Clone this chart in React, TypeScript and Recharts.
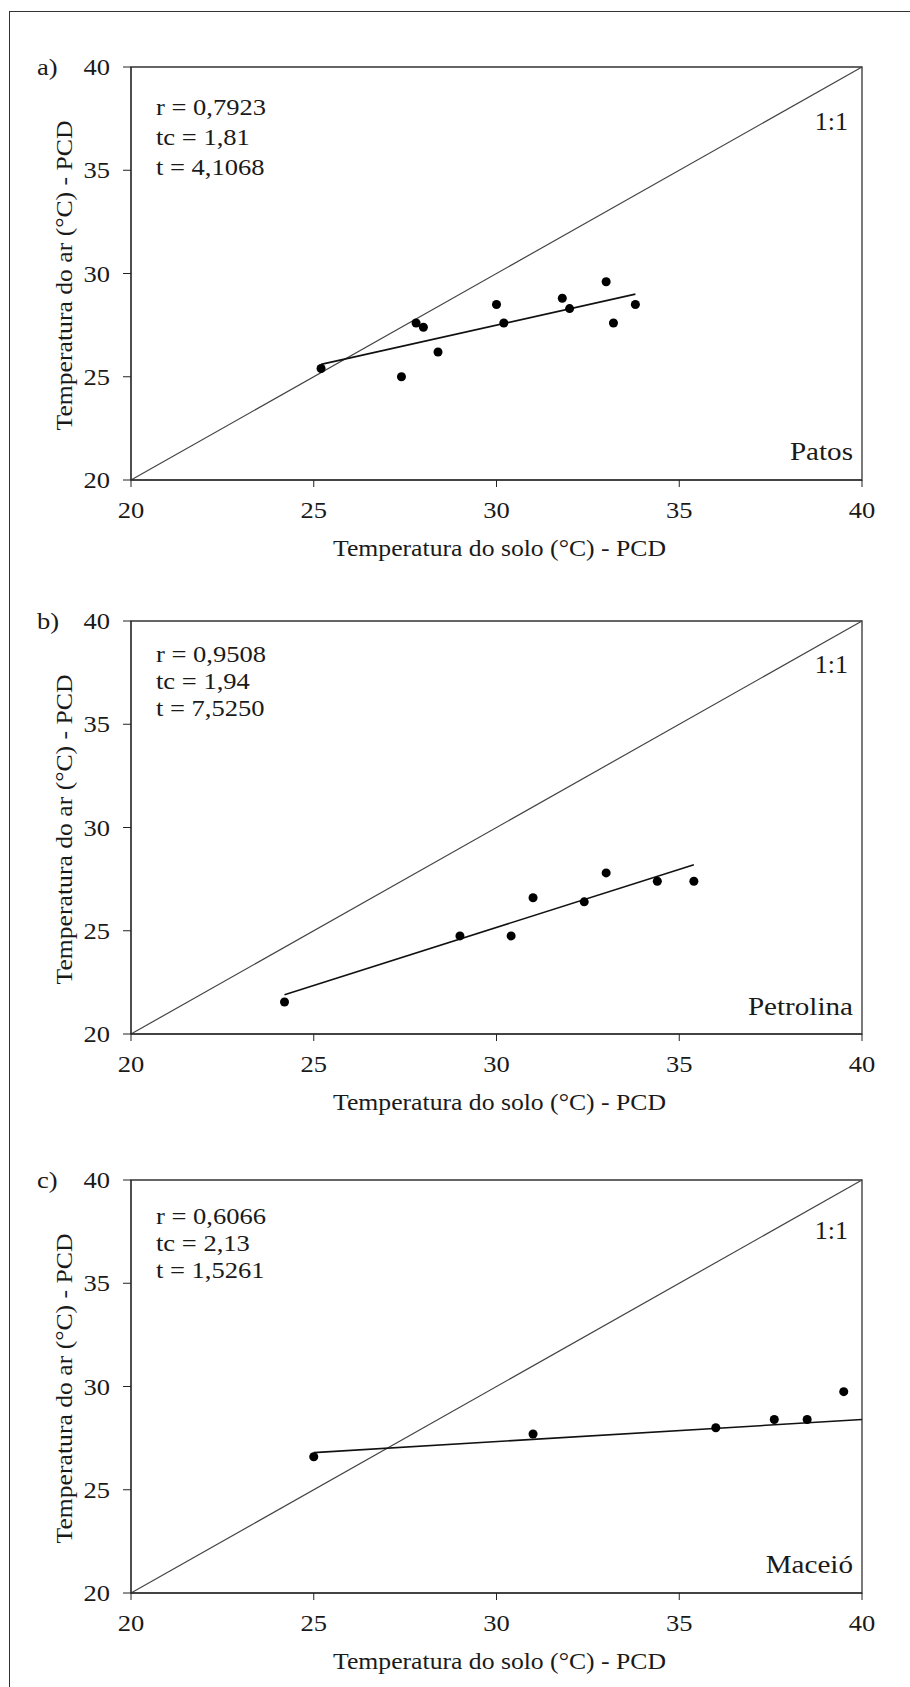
import React from 'react';
import { ComposedChart, Label, Line, ReferenceArea, Scatter, XAxis, YAxis } from 'recharts';

const ticks = [20, 25, 30, 35, 40];
const oneToOne = [
  { x: 20, y: 20 },
  { x: 40, y: 40 },
];

// a) Patos
const patosSolo = [25.2, 27.4, 27.8, 28.0, 28.4, 30.0, 30.2, 31.8, 32.0, 33.0, 33.2, 33.8];
const patosAr = [25.4, 25.0, 27.6, 27.4, 26.2, 28.5, 27.6, 28.8, 28.3, 29.6, 27.6, 28.5];
const patosFit = [
  { x: 25.2, y: 25.6 },
  { x: 33.8, y: 29.0 },
];
const patosStats = ['r = 0,7923', 'tc = 1,81', 't = 4,1068'];

// b) Petrolina
const petrolinaSolo = [24.2, 29.0, 30.4, 31.0, 32.4, 33.0, 34.4, 35.4];
const petrolinaAr = [21.55, 24.75, 24.75, 26.6, 26.4, 27.8, 27.4, 27.4];
const petrolinaFit = [
  { x: 24.2, y: 21.9 },
  { x: 35.4, y: 28.2 },
];
const petrolinaStats = ['r = 0,9508', 'tc = 1,94', 't = 7,5250'];

// c) Maceió
const maceioSolo = [25.0, 31.0, 36.0, 37.6, 38.5, 39.5];
const maceioAr = [26.6, 27.7, 28.0, 28.4, 28.4, 29.75];
const maceioFit = [
  { x: 25.0, y: 26.8 },
  { x: 40.0, y: 28.4 },
];
const maceioStats = ['r = 0,6066', 'tc = 2,13', 't = 1,5261'];

const FONT = '"Liberation Serif", "Times New Roman", serif';
const INK = '#1a1a1a';

function Txt({
  x,
  y,
  size = 22.5,
  sx = 1.18,
  anchor = 'start',
  rotate = 0,
  children,
}: {
  x: number;
  y: number;
  size?: number;
  sx?: number;
  anchor?: 'start' | 'middle' | 'end';
  rotate?: number;
  children: React.ReactNode;
}) {
  return (
    <text
      transform={`translate(${x},${y}) rotate(${rotate}) scale(${sx},1)`}
      fontFamily={FONT}
      fontSize={size}
      textAnchor={anchor}
      fill={INK}
    >
      {children}
    </text>
  );
}

const XTick = (p: any) => (
  <Txt x={p.x} y={p.y + 29} anchor="middle">
    {p.payload.value}
  </Txt>
);

const YTick = (p: any) => (
  <Txt x={p.x - 11} y={p.y + 8} anchor="end">
    {p.payload.value}
  </Txt>
);

interface PanelProps {
  top: number;
  letter: string;
  site: string;
  solo: number[];
  ar: number[];
  fit: { x: number; y: number }[];
  stats: string[];
  statY: number;
  statGap: number;
  ratioY: number;
  siteY: number;
}

const W = 910;
const H = 600;

function Panel({ top, letter, site, solo, ar, fit, stats, statY, statGap, ratioY, siteY }: PanelProps) {
  const points = solo.map((x, i) => ({ x, y: ar[i] }));
  return (
    <div style={{ position: 'absolute', left: 0, top, width: W, height: H }}>
      <ComposedChart width={W} height={H} margin={{ top: 67, right: 48, bottom: 46, left: 0 }}>
        <XAxis
          type="number"
          dataKey="x"
          domain={[20, 40]}
          ticks={ticks}
          height={74}
          tickSize={7}
          stroke="#222"
          tick={XTick}
        >
          <Label
            content={(lp: any) => {
              const vb = lp.viewBox;
              return (
                <Txt x={vb.x + vb.width / 2 + 3} y={vb.y + 76} size={24} sx={1.07} anchor="middle">
                  Temperatura do solo (°C) - PCD
                </Txt>
              );
            }}
          />
        </XAxis>
        <YAxis
          type="number"
          dataKey="y"
          domain={[20, 40]}
          ticks={ticks}
          width={131}
          tickSize={8}
          stroke="#222"
          tick={YTick}
        >
          <Label
            content={(lp: any) => {
              const vb = lp.viewBox;
              return (
                <Txt x={72} y={vb.y + vb.height / 2 + 2} size={24} sx={1.07} anchor="middle" rotate={-90}>
                  Temperatura do ar (°C) - PCD
                </Txt>
              );
            }}
          />
        </YAxis>
        <ReferenceArea x1={20} x2={40} y1={20} y2={40} fill="none" stroke="#333" strokeWidth={1.3} />
        <Line data={oneToOne} dataKey="y" stroke="#444" strokeWidth={1.2} dot={false} isAnimationActive={false} />
        <Line data={fit} dataKey="y" stroke="#111" strokeWidth={1.6} dot={false} isAnimationActive={false} />
        <Scatter data={points} dataKey="y" fill="#000" isAnimationActive={false} />
      </ComposedChart>
      <svg width={W} height={H} style={{ position: 'absolute', left: 0, top: 0, pointerEvents: 'none' }}>
        <Txt x={37} y={75}>
          {letter}
        </Txt>
        {stats.map((s, i) => (
          <Txt key={s} x={156} y={statY + i * statGap}>
            {s}
          </Txt>
        ))}
        <Txt x={848} y={ratioY} size={26} sx={1} anchor="end">
          {'1:1'}
        </Txt>
        <Txt x={853} y={siteY} size={26} sx={1.12} anchor="end">
          {site}
        </Txt>
      </svg>
    </div>
  );
}

export default function App() {
  return (
    <div
      style={{
        position: 'absolute',
        left: 0,
        top: 0,
        width: 910,
        height: 1687,
        overflow: 'hidden',
        background: '#fff',
      }}
    >
      <div
        style={{
          position: 'absolute',
          left: 9,
          top: 11,
          width: 920,
          height: 1700,
          borderLeft: '1.5px solid #333',
          borderTop: '1.5px solid #333',
        }}
      />
      <Panel
        top={0}
        letter="a)"
        site="Patos"
        solo={patosSolo}
        ar={patosAr}
        fit={patosFit}
        stats={patosStats}
        statY={115}
        statGap={30}
        ratioY={130}
        siteY={460}
      />
      <Panel
        top={554}
        letter="b)"
        site="Petrolina"
        solo={petrolinaSolo}
        ar={petrolinaAr}
        fit={petrolinaFit}
        stats={petrolinaStats}
        statY={108}
        statGap={27}
        ratioY={119}
        siteY={461}
      />
      <Panel
        top={1113}
        letter="c)"
        site="Maceió"
        solo={maceioSolo}
        ar={maceioAr}
        fit={maceioFit}
        stats={maceioStats}
        statY={111}
        statGap={27}
        ratioY={126}
        siteY={460}
      />
    </div>
  );
}
